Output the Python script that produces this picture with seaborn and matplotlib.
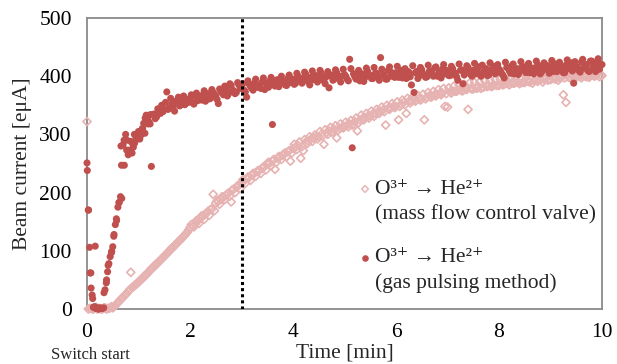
import numpy as np
import pandas as pd
import matplotlib
matplotlib.use("Agg")
import matplotlib.pyplot as plt
import seaborn as sns

# ---------------- data ----------------
# sample times [min]: grid A every 0.05 min, grid B half a step later
time_a = np.linspace(0.0, 10.0, 201)
time_b = np.linspace(0.025, 9.975, 200)

# O3+ -> He2+ , mass flow control valve  [euA]
valve_a = [
    322, 1, 0, 2, 0, 1, 0, 2, 1, 2,
    2, 6, 11, 16, 20, 25, 30, 63, 38, 42,
    46, 51, 55, 59, 64, 69, 73, 77, 82, 86,
    91, 95, 100, 104, 109, 113, 118, 122, 127, 132,
    140, 142, 146, 152, 155, 160, 163, 168, 171, 197,
    182, 185, 188, 192, 195, 199, 184, 206, 209, 213,
    217, 220, 224, 226, 230, 233, 236, 238, 242, 245,
    250, 251, 254, 240, 259, 262, 264, 268, 270, 254,
    276, 278, 281, 259, 272, 287, 289, 292, 294, 296,
    296, 300, 283, 303, 306, 304, 309, 294, 311, 312,
    313, 316, 318, 316, 322, 306, 325, 327, 329, 331,
    332, 335, 336, 339, 340, 342, 316, 345, 346, 348,
    348, 325, 352, 355, 336, 357, 358, 360, 359, 362,
    361, 325, 364, 366, 365, 368, 369, 370, 371, 348,
    347, 373, 375, 374, 376, 377, 375, 378, 343, 379,
    378, 380, 382, 379, 381, 383, 384, 382, 385, 384,
    384, 387, 386, 388, 385, 389, 388, 390, 387, 389,
    389, 392, 390, 388, 393, 391, 394, 390, 395, 393,
    394, 396, 395, 393, 397, 368, 355, 398, 396, 398,
    398, 400, 397, 401, 399, 398, 402, 400, 403, 399,
    401,
]
valve_b = [
    0, 1, 0, 3, 1, 0, 2, 0, 1, 4,
    4, 9, 13, 18, 23, 27, 33, 37, 41, 44,
    49, 52, 58, 61, 67, 70, 76, 79, 84, 88,
    93, 97, 103, 106, 111, 116, 120, 125, 130, 136,
    145, 141, 152, 147, 160, 154, 165, 161, 172, 169,
    186, 180, 193, 188, 198, 194, 205, 200, 212, 207,
    222, 216, 227, 221, 233, 228, 238, 233, 244, 239,
    252, 246, 257, 252, 262, 257, 267, 262, 272, 268,
    283, 274, 287, 279, 291, 284, 296, 288, 299, 292,
    305, 297, 308, 300, 312, 304, 315, 307, 318, 311,
    321, 313, 324, 317, 328, 320, 333, 325, 336, 328,
    340, 331, 343, 336, 347, 339, 350, 343, 353, 346,
    356, 348, 359, 351, 362, 354, 364, 357, 367, 359,
    369, 361, 372, 364, 374, 366, 377, 368, 379, 370,
    380, 371, 383, 374, 385, 375, 386, 377, 388, 378,
    389, 379, 390, 381, 392, 382, 393, 383, 394, 385,
    395, 385, 396, 387, 397, 388, 398, 389, 399, 390,
    400, 391, 401, 392, 402, 393, 403, 394, 404, 395,
    404, 396, 405, 397, 406, 397, 407, 398, 408, 399,
    408, 399, 409, 400, 410, 401, 411, 401, 412, 402,
]

# O3+ -> He2+ , gas pulsing method  [euA]
pulse_a = [
    251, 106, 24, 4, 2, 2, 1, 33, 64, 90,
    107, 145, 175, 193, 282, 300, 265, 288, 278, 296,
    305, 299, 319, 333, 322, 245, 335, 330, 340, 350,
    343, 373, 346, 352, 340, 356, 349, 358, 351, 360,
    362, 355, 366, 358, 364, 368, 357, 370, 362, 372,
    366, 353, 374, 368, 378, 370, 384, 375, 372, 385,
    380, 376, 364, 386, 379, 388, 381, 384, 390, 377,
    386, 392, 317, 383, 394, 388, 391, 385, 396, 389,
    395, 388, 400, 392, 397, 403, 390, 398, 394, 401,
    396, 405, 392, 399, 380, 402, 395, 406, 398, 400,
    403, 395, 429, 277, 399, 406, 392, 404, 398, 408,
    401, 396, 405, 399, 432, 403, 395, 410, 400, 404,
    406, 398, 410, 402, 396, 407, 385, 372, 408, 401,
    411, 403, 399, 409, 405, 414, 400, 407, 412, 404,
    409, 401, 413, 405, 393, 410, 387, 406, 415, 403,
    410, 404, 416, 400, 408, 413, 402, 411, 417, 406,
    412, 405, 397, 415, 409, 418, 404, 413, 408, 416,
    410, 419, 406, 414, 409, 420, 404, 416, 412, 418,
    415, 408, 421, 411, 417, 406, 419, 413, 423, 388,
    416, 410, 424, 414, 420, 408, 426, 415, 422, 412,
    420,
]
pulse_b = [
    170, 62, 3, 1, 0, 1, 2, 45, 78, 97,
    128, 152, 183, 190, 247, 290, 273, 268, 285, 300,
    292, 310, 302, 328, 318, 334, 327, 344, 336, 339,
    355, 343, 362, 348, 357, 364, 351, 366, 358, 355,
    368, 352, 371, 363, 359, 375, 366, 361, 377, 369,
    360, 378, 371, 383, 366, 387, 376, 370, 389, 379,
    387, 373, 392, 382, 376, 395, 385, 379, 397, 388,
    381, 398, 387, 393, 382, 400, 390, 384, 402, 393,
    386, 405, 393, 388, 407, 396, 385, 409, 398, 390,
    410, 399, 387, 408, 401, 393, 411, 397, 390, 412,
    400, 392, 413, 404, 395, 410, 399, 391, 414, 403,
    396, 415, 405, 393, 412, 401, 395, 416, 406, 398,
    417, 404, 397, 413, 408, 399, 418, 406, 396, 415,
    402, 398, 419, 408, 400, 416, 404, 397, 420, 410,
    401, 417, 406, 399, 421, 411, 402, 418, 407, 400,
    422, 412, 403, 419, 409, 401, 423, 413, 404, 420,
    410, 402, 424, 414, 405, 421, 411, 403, 425, 415,
    406, 422, 412, 404, 426, 416, 407, 423, 413, 405,
    427, 417, 408, 424, 414, 406, 428, 418, 409, 425,
    415, 407, 429, 419, 410, 426, 416, 408, 430, 420,
]

# extra gas-pulsing readings in the fast-changing start-up phase
pulse_extra_time = [0.006, 0.03, 0.06, 0.08, 0.11, 0.16, 0.13, 0.18, 0.22, 0.27,
                    0.33, 0.38, 0.41, 0.48, 0.52, 0.57, 0.62, 0.67, 0.66, 0.77,
                    0.72, 0.83, 0.88, 0.92, 0.97, 1.03, 1.08, 1.13, 1.18, 1.23]
pulse_extra_current = [238, 170, 62, 36, 18, 108, 3, 1, 0, 1,
                       28, 50, 75, 99, 125, 155, 183, 247, 280, 273,
                       290, 268, 285, 300, 292, 299, 310, 328, 318, 334]

xticks = [0, 2, 4, 6, 8, 10]
yticks = [0, 100, 200, 300, 400, 500]

valve_df = pd.DataFrame({"t": np.concatenate([time_a, time_b]),
                         "I": np.concatenate([valve_a, valve_b])})
pulse_df = pd.DataFrame({"t": np.concatenate([time_a, time_b, pulse_extra_time]),
                         "I": np.concatenate([pulse_a, pulse_b, pulse_extra_current])})

# ---------------- style ----------------
sns.set_theme(style="white")
plt.rcParams["font.family"] = ["Liberation Serif", "DejaVu Serif"]

PINK = "#e6b3b2"
RED = "#c0504d"
GREY = "#8a8a8a"
FS = 15.5

fig = plt.figure(figsize=(6.17, 3.64), dpi=100)
ax = fig.add_axes([87 / 617, 1 - 309 / 364, 515 / 617, 291 / 364])

sns.scatterplot(data=valve_df, x="t", y="I", ax=ax, marker="D", s=17,
                color=PINK, facecolor="none", edgecolor=PINK, linewidth=1.2,
                clip_on=False, zorder=3, legend=False)
sns.scatterplot(data=pulse_df, x="t", y="I", ax=ax, marker="o", s=26,
                color=RED, edgecolor="none", linewidth=0,
                clip_on=False, zorder=4, legend=False)

ax.axvline(3, color="black", lw=2.2, ls=(0, (1, 1)), zorder=5)

ax.set_xlim(0, 10)
ax.set_ylim(0, 500)
ax.set_xticks(xticks)
ax.set_yticks(yticks)
ax.tick_params(axis="both", direction="in", length=5, width=1.0, color=GREY,
               labelsize=FS, labelcolor="black")
ax.tick_params(axis="x", pad=10)
ax.tick_params(axis="y", pad=11)
for sp in ax.spines.values():
    sp.set_visible(True)
    sp.set_color(GREY)
    sp.set_linewidth(1.3)

ax.set_ylabel("Beam current [eμA]", fontsize=FS)
ax.yaxis.set_label_coords(-0.107, 0.5)
ax.set_xlabel("Time [min]", fontsize=FS)
ax.xaxis.set_label_coords(0.501, -0.12)

fig.text(90 / 617, 1 - 355 / 364, "Switch start", ha="center", va="center",
         fontsize=12)

# legend (two-line entries)
def ax_pt(px, py):
    return ((px - 87) / 515, (309 - py) / 291)

for (mk, col, fc, y1, y2, l2) in [
        ("D", PINK, "none", 189, 215, "(mass flow control valve)"),
        ("o", RED, RED, 258, 283, "(gas pulsing method)")]:
    mx, my = ax_pt(365, y1)
    ax.scatter([mx], [my], transform=ax.transAxes, marker=mk, s=12 if mk == "D" else 14,
               facecolor=fc, edgecolor=col, linewidth=1.0, clip_on=False, zorder=6)
    tx, ty = ax_pt(375, y1)
    ax.text(tx, ty, "O³⁺ → He²⁺", transform=ax.transAxes, fontsize=FS,
            ha="left", va="center")
    tx2, ty2 = ax_pt(375, y2)
    ax.text(tx2, ty2, l2, transform=ax.transAxes, fontsize=FS,
            ha="left", va="center")

fig.savefig("out.png", dpi=100)
